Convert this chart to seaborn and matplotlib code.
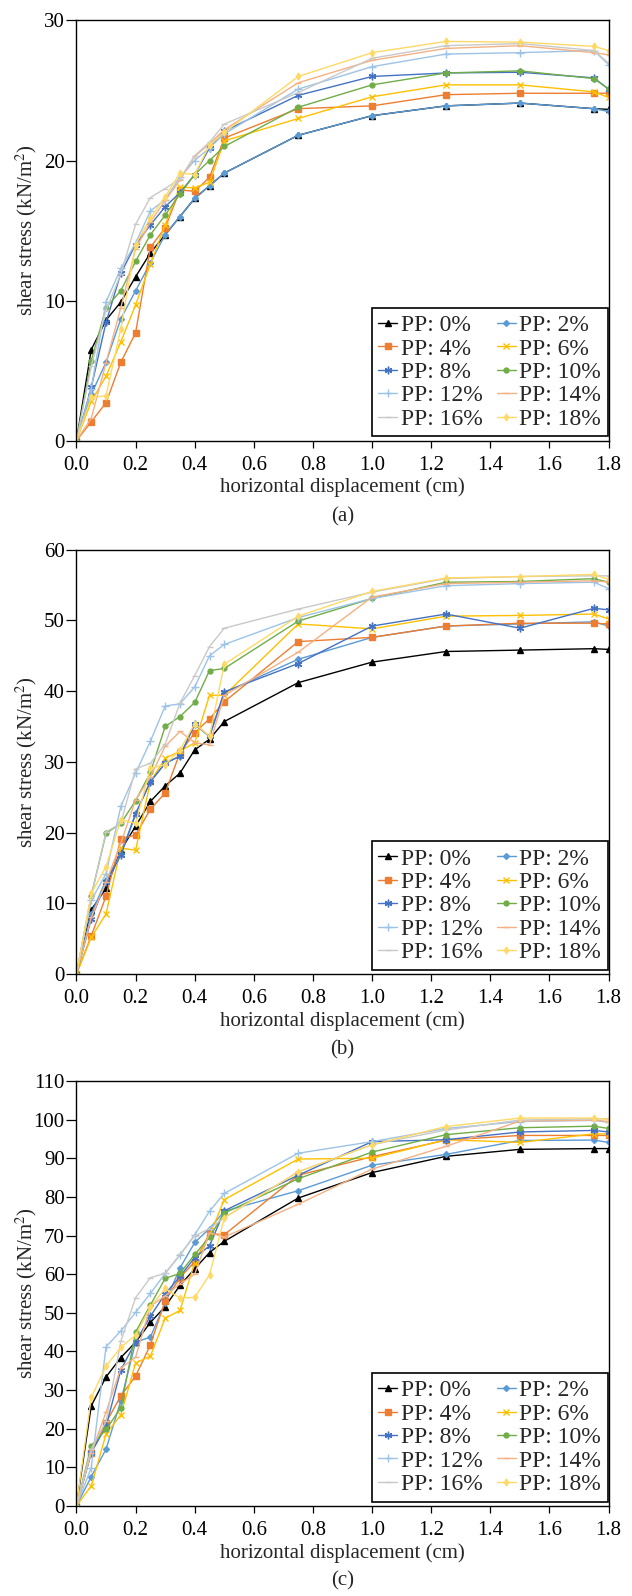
import pandas as pd
import matplotlib
matplotlib.use("Agg")
import matplotlib.pyplot as plt
import seaborn as sns

# horizontal displacement (cm)
disp = [0, 0.05, 0.1, 0.15, 0.2, 0.25, 0.3, 0.35, 0.4, 0.45, 0.5,
        0.75, 1.0, 1.25, 1.5, 1.75, 1.8]

labels = ["PP: 0%", "PP: 2%", "PP: 4%", "PP: 6%", "PP: 8%",
          "PP: 10%", "PP: 12%", "PP: 14%", "PP: 16%", "PP: 18%"]

# shear stress (kN/m2), panel (a)
stress_a = {
    "PP: 0%": [0, 6.5, 8.6, 9.9, 11.7, 13.4, 14.7, 16.0, 17.3, 18.2, 19.1, 21.8, 23.2, 23.9, 24.1, 23.7, 23.65],
    "PP: 2%": [0, 3.3, 5.6, 8.7, 10.7, 12.7, 14.7, 16.0, 17.3, 18.2, 19.1, 21.8, 23.2, 23.9, 24.1, 23.7, 23.5],
    "PP: 4%": [0, 1.35, 2.7, 5.6, 7.7, 13.8, 15.2, 17.9, 17.8, 18.8, 21.6, 23.7, 23.9, 24.7, 24.8, 24.8, 24.8],
    "PP: 6%": [0, 2.8, 4.6, 7.05, 9.7, 12.6, 15.4, 18.1, 18.05, 18.45, 21.4, 23.0, 24.55, 25.4, 25.4, 24.9, 24.5],
    "PP: 8%": [0, 3.8, 8.45, 11.95, 14.0, 15.4, 16.7, 17.7, 19.0, 20.9, 22.1, 24.65, 26.0, 26.25, 26.3, 25.9, 25.1],
    "PP: 10%": [0, 5.7, 9.5, 10.7, 12.8, 14.7, 16.1, 17.6, 19.0, 20.0, 21.0, 23.8, 25.4, 26.25, 26.4, 25.85, 25.1],
    "PP: 12%": [0, 3.7, 9.9, 12.3, 14.1, 16.4, 17.2, 18.8, 20.0, 20.9, 21.9, 25.1, 26.7, 27.6, 27.7, 27.85, 26.85],
    "PP: 14%": [0, 1.6, 5.55, 9.5, 13.7, 15.6, 17.15, 18.6, 20.3, 21.2, 22.2, 25.55, 27.15, 28.0, 28.2, 27.7, 27.55],
    "PP: 16%": [0, 5.3, 9.3, 11.9, 15.45, 17.35, 18.0, 18.7, 20.35, 21.3, 22.6, 24.85, 27.3, 28.2, 28.35, 27.85, 26.95],
    "PP: 18%": [0, 3.1, 3.2, 8.0, 14.0, 15.9, 17.4, 19.1, 19.0, 21.1, 22.0, 26.0, 27.7, 28.5, 28.45, 28.15, 27.85],
}

# panel (b)
stress_b = {
    "PP: 0%": [0, 9.1, 12.1, 17.5, 20.9, 24.4, 26.6, 28.4, 31.7, 33.2, 35.7, 41.2, 44.1, 45.6, 45.8, 46.0, 45.9],
    "PP: 2%": [0, 8.5, 13.3, 17.0, 22.7, 27.2, 29.8, 30.8, 35.3, 33.6, 39.8, 44.5, 47.6, 49.2, 49.5, 49.8, 49.2],
    "PP: 4%": [0, 5.4, 11.0, 19.1, 19.65, 23.3, 25.6, 31.3, 34.1, 36.1, 38.5, 47.0, 47.6, 49.2, 49.6, 49.6, 49.5],
    "PP: 6%": [0, 5.2, 8.5, 17.8, 17.5, 27.2, 30.5, 31.5, 32.7, 39.4, 39.4, 49.5, 48.8, 50.6, 50.7, 50.9, 50.2],
    "PP: 8%": [0, 7.8, 13.0, 16.8, 22.6, 27.2, 29.8, 30.8, 35.3, 33.6, 39.9, 43.9, 49.2, 50.9, 48.9, 51.7, 51.5],
    "PP: 10%": [0, 11.1, 19.9, 21.3, 24.5, 28.5, 35.0, 36.4, 38.4, 42.9, 43.2, 49.9, 53.1, 55.4, 55.5, 55.9, 55.4],
    "PP: 12%": [0, 10.4, 14.2, 23.7, 28.4, 32.9, 37.9, 38.2, 40.6, 45.0, 46.6, 50.4, 53.1, 54.9, 55.2, 55.4, 54.5],
    "PP: 14%": [0, 8.0, 13.0, 18.5, 24.6, 27.9, 32.2, 34.3, 32.7, 32.4, 39.4, 45.5, 53.3, 55.2, 55.4, 55.6, 55.4],
    "PP: 16%": [0, 10.9, 20.1, 21.3, 29.0, 29.8, 32.5, 38.3, 42.2, 46.3, 48.9, 51.6, 54.0, 55.9, 56.2, 56.3, 56.3],
    "PP: 18%": [0, 11.4, 15.2, 21.8, 21.3, 29.1, 29.6, 31.7, 35.4, 33.6, 43.8, 50.6, 54.1, 56.0, 56.2, 56.5, 55.8],
}

# panel (c)
stress_c = {
    "PP: 0%": [0, 25.9, 33.4, 38.4, 42.4, 47.5, 51.6, 57.1, 61.4, 65.6, 68.5, 79.7, 86.3, 90.5, 92.3, 92.5, 92.5],
    "PP: 2%": [0, 7.6, 14.7, 27.2, 42.4, 43.7, 52.6, 61.6, 68.2, 71.8, 76.3, 81.6, 88.2, 91.0, 94.6, 94.7, 94.1],
    "PP: 4%": [0, 13.8, 21.6, 28.5, 33.6, 41.7, 53.1, 59.1, 63.2, 70.5, 70.2, 85.6, 90.4, 94.7, 95.9, 95.9, 95.9],
    "PP: 6%": [0, 5.2, 18.6, 23.6, 37.0, 38.8, 48.6, 50.6, 63.0, 70.0, 79.3, 89.8, 90.0, 94.8, 94.1, 96.3, 96.3],
    "PP: 8%": [0, 13.8, 20.6, 35.2, 42.5, 49.1, 54.9, 59.4, 64.3, 67.3, 76.4, 85.6, 94.3, 94.8, 96.8, 97.2, 96.8],
    "PP: 10%": [0, 15.6, 19.8, 25.4, 45.0, 52.0, 58.9, 60.2, 65.1, 69.6, 75.8, 84.7, 91.6, 96.1, 97.9, 98.3, 97.7],
    "PP: 12%": [0, 9.9, 41.2, 45.3, 50.1, 55.0, 60.2, 64.9, 70.2, 76.3, 80.9, 91.3, 94.3, 97.7, 99.5, 99.8, 99.3],
    "PP: 14%": [0, 13.8, 24.3, 35.7, 38.5, 51.7, 54.4, 57.5, 60.0, 70.7, 69.6, 78.1, 87.2, 93.1, 99.6, 99.9, 99.5],
    "PP: 16%": [0, 14.8, 21.9, 42.6, 53.9, 59.1, 60.2, 65.1, 69.9, 71.8, 74.6, 86.5, 93.5, 97.3, 99.9, 100.2, 100.2],
    "PP: 18%": [0, 28.1, 36.2, 41.1, 44.2, 51.5, 56.3, 53.8, 54.0, 59.8, 74.6, 86.5, 93.5, 98.2, 100.4, 100.4, 100.0],
}

colors = ["#000000", "#5B9BD5", "#ED7D31", "#FFC000", "#4472C4",
          "#70AD47", "#9DC3E6", "#F4B183", "#C9C9C9", "#FFD966"]
markers = ["^", "D", "s", "x", (6, 2, 0), "o", "+", "_", "_", "d"]
msizes = [4.5, 3, 4.5, 5, 5.5, 3.5, 6, 5, 5, 3.5]

FS = 15

sns.set_theme(style="white")
plt.rcParams["font.family"] = ["Liberation Serif", "DejaVu Serif"]
plt.rcParams["mathtext.fontset"] = "stix"


def to_long(stress):
    rows = []
    for lab in labels:
        for x, y in zip(disp, stress[lab]):
            rows.append({"disp": x, "stress": y, "series": lab})
    return pd.DataFrame(rows)


def draw_panel(fig, rect, stress, ymax, caption, cap_y):
    ax = fig.add_axes(rect)
    df = to_long(stress)
    sns.lineplot(data=df, x="disp", y="stress", hue="series", hue_order=labels,
                 palette=colors, estimator=None, sort=False, legend=False,
                 linewidth=1.0, ax=ax)
    lines = ax.get_lines()
    for ln, mk, ms, c in zip(lines, markers, msizes, colors):
        ln.set_marker(mk)
        ln.set_markersize(ms)
        ln.set_markerfacecolor(c)
        ln.set_markeredgecolor(c)
        ln.set_markeredgewidth(1.0)
    ax.set_xlim(0, 1.8)
    ax.set_ylim(0, ymax)
    ax.set_xticks([0.0, 0.2, 0.4, 0.6, 0.8, 1.0, 1.2, 1.4, 1.6, 1.8])
    ax.set_xticklabels([f"{v:.1f}" for v in ax.get_xticks()])
    ax.set_yticks(range(0, ymax + 1, 10))
    ax.tick_params(axis="x", which="major", direction="out", length=5,
                   width=0.9, labelsize=FS, pad=6, colors="black",
                   bottom=True, top=False)
    ax.tick_params(axis="y", which="major", direction="out", length=7,
                   width=0.9, labelsize=FS, pad=1.5, colors="black",
                   left=True, right=False)
    for sp in ax.spines.values():
        sp.set_visible(True)
        sp.set_color("black")
        sp.set_linewidth(1.0)
    ax.set_xlabel("horizontal displacement (cm)", fontsize=FS)
    ax.set_ylabel("shear stress (kN/m$^2$)", fontsize=FS)
    ax.xaxis.set_label_coords(0.5, -0.088)
    ax.yaxis.set_label_coords(-0.071, 0.5)
    order = [0, 2, 4, 6, 8, 1, 3, 5, 7, 9]
    leg = ax.legend([lines[i] for i in order], [labels[i] for i in order],
                    loc="lower right", bbox_to_anchor=(0.998, 0.01),
                    ncol=2, fontsize=17,
                    frameon=True, fancybox=False, framealpha=1,
                    edgecolor="black", handlelength=0.8, handletextpad=0.15,
                    columnspacing=0.6, labelspacing=0.08, borderpad=0.28,
                    borderaxespad=0)
    leg.get_frame().set_linewidth(1.2)
    fig.text(rect[0] + rect[2] / 2, cap_y, caption, ha="center", va="center",
             fontsize=FS)
    return ax


def main():
    fig = plt.figure(figsize=(6.32, 15.96), dpi=100)
    draw_panel(fig, [0.121, 0.7239, 0.842, 0.2633], stress_a, 30, "(a)", 0.676)
    draw_panel(fig, [0.121, 0.3897, 0.842, 0.2659], stress_b, 60, "(b)", 0.342)
    draw_panel(fig, [0.121, 0.0564, 0.842, 0.2663], stress_c, 110, "(c)", 0.0095)
    fig.savefig("out.png", dpi=100)
    plt.close(fig)


if __name__ == "__main__":
    main()
